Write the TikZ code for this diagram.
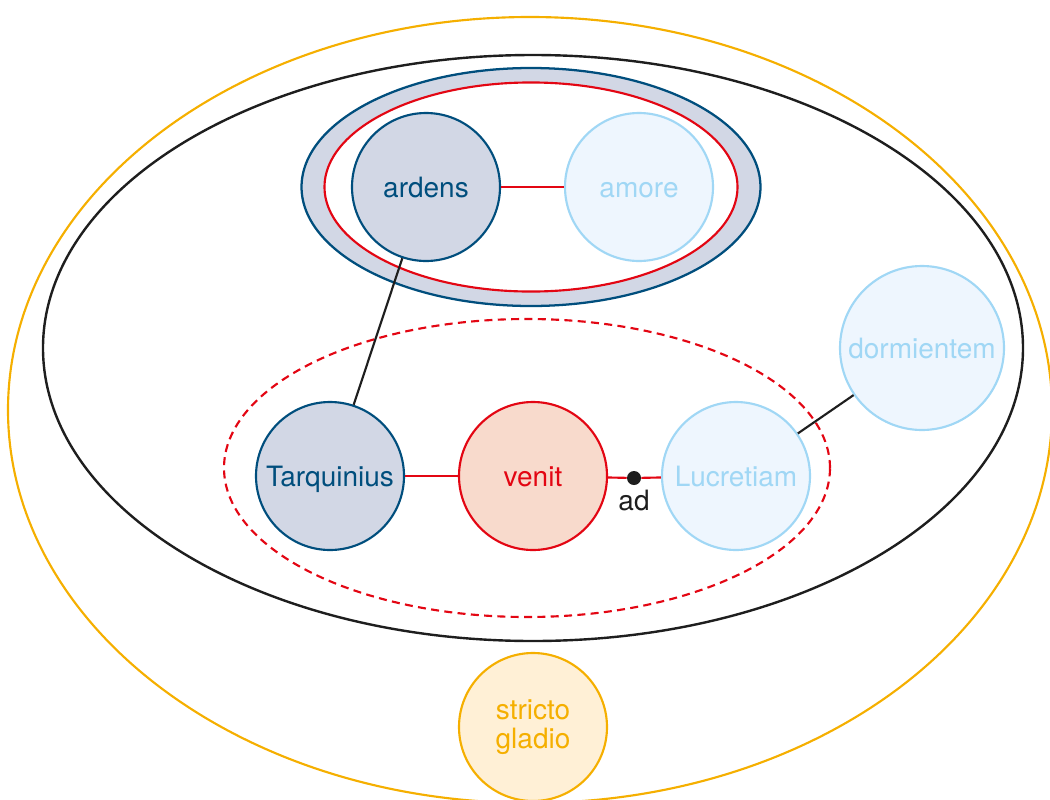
\documentclass[tikz,border=0pt]{standalone}
\usepackage{fontspec}
\setmainfont{TeX Gyre Heros}
\definecolor{dblue}{RGB}{0,78,125}
\definecolor{bgray}{RGB}{210,215,229}
\definecolor{lblue}{RGB}{160,215,245}
\definecolor{lbluefill}{RGB}{238,246,254}
\definecolor{cred}{RGB}{227,6,19}
\definecolor{venitfill}{RGB}{248,218,204}
\definecolor{corange}{RGB}{245,175,0}
\definecolor{orangefill}{RGB}{255,240,214}
\definecolor{ink}{RGB}{30,30,30}
\tikzset{
  word/.style={circle, line width=1.6pt, minimum size=111pt, inner sep=0pt,
    align=center, font=\fontsize{21}{22}\selectfont},
  oneline/.style={word, text height=16pt, text depth=0pt},
  agent/.style={oneline, draw=dblue, fill=bgray, text=dblue},
  faint/.style={oneline, draw=lblue, fill=lbluefill, text=lblue},
  verb/.style={oneline, draw=cred, fill=venitfill, text=cred},
  weapon/.style={word, draw=corange, fill=orangefill, text=corange},
  redlink/.style={draw=cred, line width=1.6pt},
  blacklink/.style={draw=ink, line width=1.6pt},
}
\begin{document}
\begin{tikzpicture}[x=0.75pt, y=-0.75pt]
\useasboundingbox (0,0) rectangle (1050,800);
\begin{scope}
\clip (0,0) rectangle (1050,800);
% outer frames
\draw[corange, line width=1.6pt] (530,410) ellipse [x radius=391.5pt, y radius=294.75pt];
\draw[ink, line width=1.8pt] (533,348) ellipse [x radius=367.5pt, y radius=219.75pt];
% shaded band around ardens / amore
\draw[dblue, fill=bgray, line width=1.7pt] (531,187) ellipse [x radius=172.1pt, y radius=89.25pt];
\draw[cred, fill=white, line width=1.6pt] (531,187) ellipse [x radius=154.9pt, y radius=78.4pt];
% dashed group around the clause
\draw[cred, line width=1.6pt, dash pattern=on 6pt off 4pt] (527,468) ellipse [x radius=227.25pt, y radius=111.75pt];
\end{scope}

% words
\node[agent] (ardens) at (426,187) {ardens};
\node[faint] (amore) at (639,187) {amore};
\node[agent] (tarq) at (330,476) {Tarquinius};
\node[verb] (venit) at (533,476) {venit};
\node[faint] (lucr) at (736,476) {Lucretiam};
\node[faint, minimum size=123pt] (dorm) at (922,348) {dormientem};
\node[weapon] (gladio) at (533,727) {stricto\\[0pt]gladio};

% preposition marker
\node[circle, fill=ink, minimum size=10.5pt, inner sep=0pt] (ad) at (634,478) {};
\node[text=ink, font=\fontsize{21}{22}\selectfont, anchor=north] (adlabel) at (634,485) {ad};

% links
\draw[redlink] (ardens) -- (amore);
\draw[redlink] (tarq) -- (venit);
\draw[redlink] (venit) -- (ad) -- (lucr);
\draw[blacklink] (ardens) -- (tarq);
\draw[blacklink] (lucr) -- (dorm);
\end{tikzpicture}
\end{document}
